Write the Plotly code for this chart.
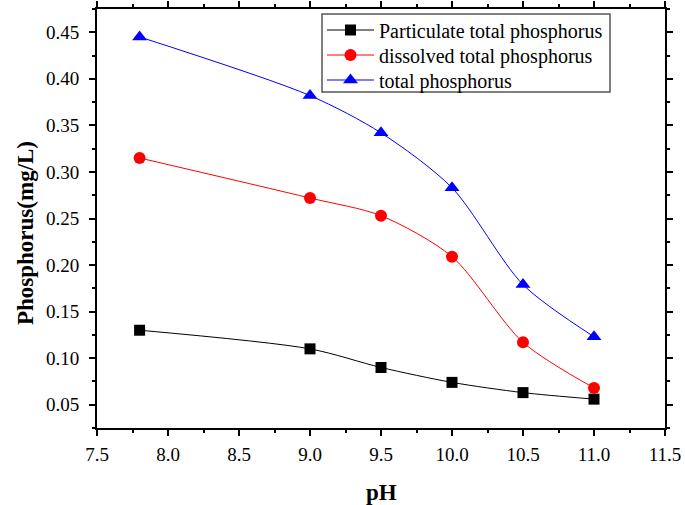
import plotly.graph_objects as go

ph = [7.8, 9.0, 9.5, 10.0, 10.5, 11.0]
particulate = [0.130, 0.110, 0.090, 0.074, 0.063, 0.056]
dissolved = [0.315, 0.272, 0.253, 0.209, 0.117, 0.068]
total = [0.445, 0.382, 0.342, 0.283, 0.179, 0.123]

series_names = ["Particulate total phosphorus", "dissolved total phosphorus", "total phosphorus"]
x_ticks = [7.5, 8.0, 8.5, 9.0, 9.5, 10.0, 10.5, 11.0, 11.5]
y_ticks = [0.05, 0.10, 0.15, 0.20, 0.25, 0.30, 0.35, 0.40, 0.45]

FONT = "Liberation Serif"
W, H = 685, 505
L, R, T, B = 97, 20, 9, 77
PW, PH = W - L - R, H - T - B


def px_x(px):
    return (px - L) / PW


def px_y(py):
    return (H - B - py) / PH


fig = go.Figure()
styles = [("black", "square", 11), ("red", "circle", 12), ("blue", "triangle-up", 13)]
legend_ids = ["legend", "legend2", "legend3"]
for name, vals, (col, sym, sz), lid in zip(series_names, [particulate, dissolved, total], styles, legend_ids):
    fig.add_trace(go.Scatter(
        x=ph, y=vals, name=name, mode="lines+markers", legend=lid,
        line=dict(color=col, width=1, shape="spline", smoothing=0.8),
        marker=dict(color=col, symbol=sym, size=sz),
    ))

axis_common = dict(
    showline=True, linecolor="black", linewidth=2, mirror="ticks",
    ticks="outside", ticklen=6, tickwidth=2, tickcolor="black",
    showgrid=False, zeroline=False, automargin=False,
    tickfont=dict(family=FONT, size=19, color="black"),
)
fig.update_xaxes(
    range=[7.5, 11.5], tickvals=x_ticks, ticktext=[f"{v:.1f}" for v in x_ticks],
    ticklabelstandoff=2,
    minor=dict(ticks="outside", ticklen=3, tickwidth=1.5, tickcolor="black", dtick=0.25, showgrid=False),
    **axis_common,
)
fig.update_yaxes(
    range=[0.025, 0.475], tickvals=y_ticks, ticktext=[f"{v:.2f}" for v in y_ticks],
    ticklabelstandoff=6,
    minor=dict(ticks="outside", ticklen=3, tickwidth=1.5, tickcolor="black", dtick=0.025, showgrid=False),
    **axis_common,
)
fig.add_annotation(
    text="<b>Phosphorus(mg/L)</b>", xref="paper", yref="paper",
    x=px_x(25), y=px_y(233), textangle=-90, showarrow=False,
    font=dict(family=FONT, size=23, color="black"), xanchor="center", yanchor="middle",
)
fig.add_annotation(
    text="<b>pH</b>", xref="paper", yref="paper",
    x=0.5, y=px_y(492), showarrow=False,
    font=dict(family=FONT, size=23, color="black"), xanchor="center", yanchor="middle",
)
# legend frame
fig.add_shape(
    type="rect", xref="paper", yref="paper",
    x0=px_x(322), x1=px_x(610), y0=px_y(92), y1=px_y(14),
    line=dict(color="#555555", width=1.5), fillcolor="white", layer="above",
)
legend_style = dict(
    xanchor="left", yanchor="middle", bgcolor="rgba(0,0,0,0)", borderwidth=0,
    font=dict(family=FONT, size=20, color="black"), itemwidth=47,
)
layout_legends = {}
for lid, row_y in zip(legend_ids, [30, 55, 80]):
    layout_legends[lid] = dict(x=px_x(322), y=px_y(row_y), **legend_style)

fig.update_layout(
    width=W, height=H,
    margin=dict(l=L, r=R, t=T, b=B),
    plot_bgcolor="white", paper_bgcolor="white",
    font=dict(family=FONT, color="black"),
    showlegend=True,
    **layout_legends,
)
fig.write_html("out.html")
